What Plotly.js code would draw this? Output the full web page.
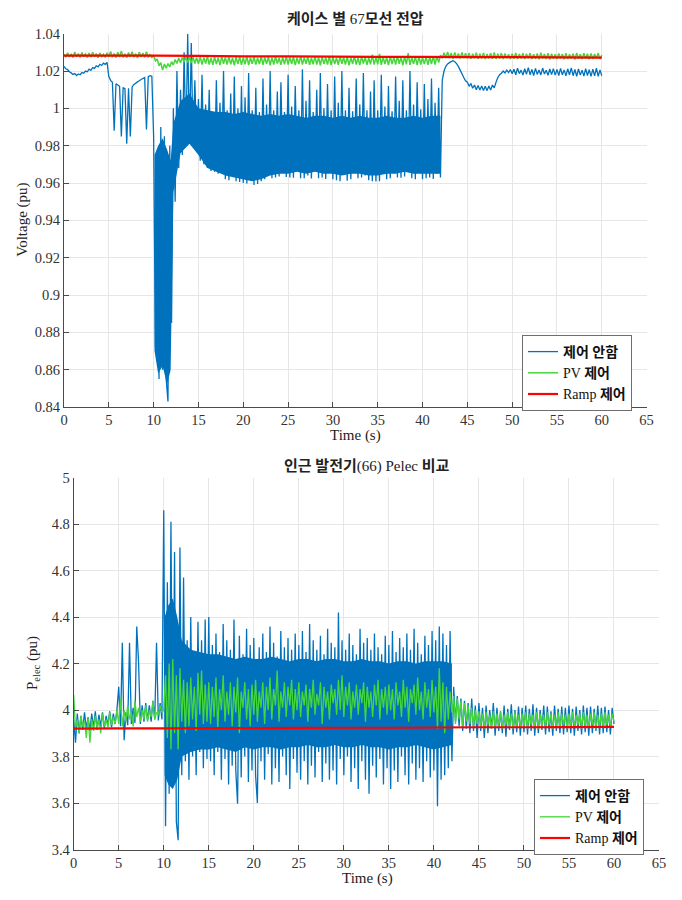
<!DOCTYPE html>
<html>
<head>
<meta charset="utf-8">
<script src="https://cdn.plot.ly/plotly-3.0.1.min.js"></script>
<style>
  html, body { margin: 0; padding: 0; background: #fff; }
  #chart { width: 682px; height: 900px; }
</style>
</head>
<body>
<div id="chart"></div>
<script>
// sample step of the time series (s)
var dt = 0.2

// 67 bus voltage, no control (pu), one row = 5 s
var vNone = [
  1.0225, 1.0212, 1.0208, 1.0196, 1.0190, 1.0182, 1.0186, 1.0176, 1.0184, 1.0180, 1.0192, 1.0188, 1.0200, 1.0196, 1.0210, 1.0204, 1.0218, 1.0214, 1.0228, 1.0222, 1.0236, 1.0230, 1.0242, 1.0236, 1.0246,
  1.0170, 1.0150, 1.0140, 0.9880, 1.0132, 1.0125, 1.0118, 0.9850, 1.0110, 1.0105, 0.9810, 1.0108, 0.9850, 1.0115, 1.0128, 1.0135, 1.0142, 1.0148, 1.0155, 1.0160, 1.0165, 0.9887, 1.0170, 1.0175, 1.0172,
  0.9850, 0.8720, 0.9650, 0.8550, 0.9900, 0.8600, 0.9850, 0.8550, 0.8430, 0.9800, 0.8850, 1.0000, 0.9500, 1.0200, 0.9680, 1.0100, 0.9750, 1.0300, 0.9800, 1.0400, 0.9820, 1.0350, 0.9810, 1.0150, 0.9790,
  1.0050, 0.9720, 1.0180, 0.9700, 1.0020, 0.9680, 1.0100, 0.9665, 0.9980, 0.9660, 1.0150, 0.9650, 1.0030, 0.9700, 1.0200, 0.9620, 0.9990, 0.9615, 1.0080, 0.9640, 1.0170, 0.9610, 1.0000, 0.9605, 1.0120,
  0.9600, 1.0060, 0.9598, 1.0190, 0.9640, 0.9990, 0.9590, 1.0110, 0.9595, 0.9980, 0.9610, 1.0160, 0.9620, 1.0020, 0.9660, 1.0200, 0.9625, 0.9990, 0.9630, 1.0090, 0.9635, 1.0140, 0.9700, 0.9980, 0.9632,
  1.0180, 0.9630, 1.0010, 0.9628, 1.0120, 0.9680, 0.9990, 0.9626, 1.0210, 0.9625, 1.0040, 0.9640, 1.0150, 0.9624, 0.9980, 0.9700, 1.0100, 0.9625, 1.0190, 0.9630, 1.0000, 0.9622, 1.0130, 0.9660, 0.9990,
  0.9620, 1.0170, 0.9615, 1.0030, 0.9610, 1.0200, 0.9650, 0.9990, 0.9612, 1.0110, 0.9620, 0.9985, 0.9690, 1.0160, 0.9625, 1.0020, 0.9630, 1.0190, 0.9640, 0.9990, 0.9615, 1.0090, 0.9610, 1.0150, 0.9608,
  0.9990, 0.9610, 1.0180, 0.9660, 1.0010, 0.9620, 1.0120, 0.9625, 0.9985, 0.9700, 1.0170, 0.9630, 1.0040, 0.9628, 1.0150, 0.9635, 0.9990, 0.9660, 1.0200, 0.9625, 1.0020, 0.9620, 1.0140, 0.9690, 0.9995,
  0.9620, 1.0130, 0.9625, 1.0050, 0.9630, 1.0160, 0.9622, 1.0030, 0.9650, 1.0110, 0.9630, 1.0150, 1.0200, 1.0225, 1.0238, 1.0245, 1.0250, 1.0255, 1.0250, 1.0240, 1.0225, 1.0205, 1.0185, 1.0165, 1.0148,
  1.0140, 1.0120, 1.0132, 1.0108, 1.0125, 1.0100, 1.0122, 1.0098, 1.0120, 1.0096, 1.0118, 1.0095, 1.0120, 1.0098, 1.0125, 1.0110, 1.0140, 1.0165, 1.0180, 1.0188, 1.0200, 1.0190, 1.0205, 1.0192, 1.0208,
  1.0185, 1.0210, 1.0180, 1.0215, 1.0186, 1.0205, 1.0178, 1.0212, 1.0183, 1.0218, 1.0180, 1.0208, 1.0176, 1.0214, 1.0182, 1.0206, 1.0179, 1.0216, 1.0184, 1.0204, 1.0177, 1.0211, 1.0181, 1.0213, 1.0178,
  1.0209, 1.0176, 1.0214, 1.0180, 1.0206, 1.0174, 1.0212, 1.0179, 1.0217, 1.0175, 1.0208, 1.0172, 1.0211, 1.0178, 1.0205, 1.0173, 1.0213, 1.0176, 1.0207, 1.0171, 1.0210, 1.0174, 1.0215, 1.0172, 1.0206,
  1.0175
]

// dense oscillation of the no-control voltage: solid band edges (pu)
var vBandTime = [10.1, 10.5, 11.0, 11.5, 11.9, 12.2, 13, 14, 15, 16, 17, 18, 19, 20, 21, 22, 23, 24, 25, 26, 27, 28, 29, 30, 31, 32, 33, 34, 35, 36, 37, 38, 39, 40, 41, 42]
var vBandLow = [0.870, 0.858, 0.862, 0.852, 0.860, 0.955, 0.976, 0.981, 0.975, 0.968, 0.966, 0.964, 0.963, 0.962, 0.961, 0.962, 0.964, 0.965, 0.965, 0.966, 0.965, 0.966, 0.965, 0.965, 0.964, 0.965, 0.965, 0.964, 0.964, 0.965, 0.965, 0.966, 0.965, 0.965, 0.965, 0.965]
var vBandHigh = [0.975, 0.980, 0.984, 0.978, 0.972, 0.992, 1.004, 1.008, 1.000, 0.999, 0.998, 0.998, 0.997, 0.998, 0.997, 0.996, 0.997, 0.996, 0.997, 0.996, 0.995, 0.996, 0.996, 0.995, 0.996, 0.995, 0.996, 0.995, 0.995, 0.996, 0.995, 0.995, 0.996, 0.995, 0.996, 0.996]

// 67 bus voltage, PV control (pu)
var vPv = [
  1.0290, 1.0274, 1.0298, 1.0276, 1.0292, 1.0272, 1.0302, 1.0275, 1.0294, 1.0273, 1.0299, 1.0277, 1.0291, 1.0272, 1.0296, 1.0274, 1.0300, 1.0276, 1.0293, 1.0271, 1.0297, 1.0275, 1.0290, 1.0273, 1.0298,
  1.0276, 1.0305, 1.0274, 1.0294, 1.0272, 1.0300, 1.0275, 1.0308, 1.0273, 1.0292, 1.0271, 1.0299, 1.0276, 1.0304, 1.0274, 1.0293, 1.0270, 1.0301, 1.0275, 1.0296, 1.0272, 1.0303, 1.0273, 1.0290, 1.0270,
  1.0285, 1.0255, 1.0265, 1.0228, 1.0245, 1.0205, 1.0238, 1.0215, 1.0240, 1.0222, 1.0250, 1.0232, 1.0262, 1.0240, 1.0270, 1.0245, 1.0272, 1.0248, 1.0275, 1.0246, 1.0274, 1.0243, 1.0276, 1.0240, 1.0272,
  1.0238, 1.0276, 1.0234, 1.0272, 1.0240, 1.0279, 1.0235, 1.0270, 1.0233, 1.0275, 1.0237, 1.0271, 1.0232, 1.0277, 1.0239, 1.0273, 1.0234, 1.0278, 1.0236, 1.0270, 1.0231, 1.0274, 1.0238, 1.0276, 1.0233,
  1.0272, 1.0236, 1.0279, 1.0232, 1.0271, 1.0239, 1.0275, 1.0234, 1.0270, 1.0237, 1.0278, 1.0233, 1.0273, 1.0238, 1.0276, 1.0231, 1.0272, 1.0235, 1.0277, 1.0240, 1.0270, 1.0233, 1.0274, 1.0236, 1.0279,
  1.0234, 1.0273, 1.0238, 1.0276, 1.0232, 1.0271, 1.0237, 1.0280, 1.0235, 1.0272, 1.0239, 1.0275, 1.0233, 1.0270, 1.0236, 1.0278, 1.0234, 1.0273, 1.0231, 1.0276, 1.0238, 1.0271, 1.0235, 1.0279, 1.0232,
  1.0275, 1.0237, 1.0270, 1.0233, 1.0278, 1.0239, 1.0273, 1.0234, 1.0276, 1.0231, 1.0272, 1.0238, 1.0279, 1.0235, 1.0271, 1.0232, 1.0277, 1.0240, 1.0274, 1.0233, 1.0270, 1.0236, 1.0288, 1.0234, 1.0273,
  1.0236, 1.0292, 1.0233, 1.0275, 1.0238, 1.0271, 1.0232, 1.0278, 1.0237, 1.0273, 1.0234, 1.0280, 1.0239, 1.0274, 1.0231, 1.0277, 1.0236, 1.0296, 1.0233, 1.0272, 1.0238, 1.0276, 1.0232, 1.0279, 1.0235,
  1.0272, 1.0237, 1.0277, 1.0233, 1.0274, 1.0238, 1.0279, 1.0234, 1.0280, 1.0245, 1.0285, 1.0268, 1.0298, 1.0270, 1.0302, 1.0268, 1.0296, 1.0266, 1.0300, 1.0269, 1.0294, 1.0267, 1.0299, 1.0270, 1.0295,
  1.0268, 1.0296, 1.0266, 1.0292, 1.0269, 1.0298, 1.0265, 1.0293, 1.0267, 1.0297, 1.0264, 1.0291, 1.0268, 1.0295, 1.0266, 1.0299, 1.0265, 1.0292, 1.0267, 1.0296, 1.0264, 1.0294, 1.0268, 1.0290, 1.0265,
  1.0293, 1.0266, 1.0297, 1.0264, 1.0291, 1.0267, 1.0295, 1.0265, 1.0292, 1.0268, 1.0296, 1.0264, 1.0290, 1.0266, 1.0294, 1.0263, 1.0298, 1.0267, 1.0291, 1.0265, 1.0295, 1.0262, 1.0293, 1.0266, 1.0290,
  1.0264, 1.0294, 1.0267, 1.0291, 1.0263, 1.0296, 1.0265, 1.0290, 1.0268, 1.0293, 1.0262, 1.0297, 1.0266, 1.0290, 1.0264, 1.0295, 1.0267, 1.0292, 1.0263, 1.0294, 1.0265, 1.0291, 1.0268, 1.0296, 1.0264,
  1.0285
]

// ramp control curves are smooth, read every 5 s
var rampTime = [0, 5, 10, 15, 20, 25, 30, 35, 40, 45, 50, 55, 60]
var vRamp = [1.0283, 1.0283, 1.0282, 1.0281, 1.0279, 1.0278, 1.0277, 1.0276, 1.0276, 1.0275, 1.0274, 1.0273, 1.0272]

// generator 66 Pelec, no control (pu)
var pNone = [
  3.960, 3.860, 3.985, 3.900, 3.975, 3.915, 3.990, 3.920, 3.970, 3.910, 3.985, 3.925, 3.995, 3.915, 3.980, 3.930, 3.990, 3.920, 3.975, 3.935, 3.995, 3.925, 3.985, 3.940, 4.000,
  4.100, 3.930, 4.290, 3.870, 3.990, 3.935, 4.290, 3.940, 4.010, 3.945, 4.360, 4.210, 3.940, 4.020, 3.950, 4.030, 3.955, 4.020, 3.950, 4.040, 3.960, 4.290, 3.955, 4.030, 3.960,
  4.860, 3.500, 4.550, 3.640, 4.810, 3.700, 4.680, 3.520, 3.440, 4.700, 3.720, 4.570, 3.780, 4.300, 3.700, 4.400, 3.800, 4.250, 3.720, 4.380, 3.820, 4.300, 3.750, 4.390, 3.790,
  4.400, 3.780, 4.280, 3.720, 4.330, 3.820, 4.250, 3.700, 4.370, 3.790, 4.300, 3.680, 4.260, 3.760, 4.390, 3.740, 3.597, 4.320, 3.710, 4.240, 3.800, 4.350, 3.690, 4.280, 3.740,
  4.310, 3.720, 3.600, 4.270, 3.780, 4.330, 3.700, 4.250, 3.810, 4.360, 3.680, 4.290, 3.750, 4.230, 3.690, 4.340, 3.800, 4.270, 3.720, 4.310, 3.660, 4.260, 3.790, 4.330, 3.730,
  4.280, 3.700, 4.340, 3.780, 4.250, 3.680, 4.370, 3.760, 4.300, 3.710, 4.260, 3.820, 4.320, 3.690, 4.240, 3.770, 4.350, 3.700, 4.290, 3.740, 4.270, 3.680, 4.420, 3.790, 4.300,
  3.720, 4.260, 3.800, 4.330, 3.690, 4.280, 3.750, 4.240, 3.660, 4.350, 3.780, 4.290, 3.700, 4.310, 3.640, 4.260, 3.760, 4.330, 3.710, 4.270, 3.790, 4.240, 3.680, 4.320, 3.750,
  4.280, 3.660, 4.340, 3.740, 4.250, 3.690, 4.310, 3.800, 4.270, 3.720, 4.330, 3.680, 4.260, 3.770, 4.350, 3.700, 4.290, 3.750, 4.240, 3.690, 4.320, 3.780, 4.280, 3.710, 4.340,
  3.740, 4.300, 3.586, 4.360, 3.700, 4.330, 3.720, 4.280, 3.750, 4.340, 3.780, 4.100, 3.950, 4.060, 3.930, 4.050, 3.910, 4.040, 3.920, 4.030, 3.900, 4.050, 3.910, 4.020, 3.880,
  4.030, 3.910, 4.010, 3.880, 4.020, 3.900, 4.000, 3.920, 4.030, 3.890, 4.010, 3.910, 3.995, 3.900, 4.020, 3.885, 4.005, 3.915, 4.025, 3.895, 4.000, 3.905, 4.015, 3.890, 4.010,
  3.905, 4.020, 3.895, 4.005, 3.910, 4.025, 3.890, 4.010, 3.900, 4.000, 3.915, 4.020, 3.895, 4.015, 3.905, 3.995, 3.890, 4.020, 3.910, 4.005, 3.900, 4.015, 3.895, 4.010, 3.905,
  4.020, 3.900, 4.005, 3.890, 4.015, 3.910, 4.000, 3.895, 4.020, 3.905, 4.010, 3.890, 4.015, 3.900, 4.005, 3.910, 4.020, 3.895, 4.010, 3.900, 4.015, 3.905, 4.000, 3.895, 4.010,
  3.940
]

// dense oscillation of the no-control Pelec: solid band edges (pu)
var pBandTime = [10.1, 10.5, 11, 11.5, 12, 13, 14, 15, 16, 17, 18, 19, 20, 21, 22, 23, 24, 25, 26, 27, 28, 29, 30, 31, 32, 33, 34, 35, 36, 37, 38, 39, 40, 41, 42]
var pBandLow = [3.72, 3.68, 3.66, 3.70, 3.80, 3.82, 3.83, 3.83, 3.84, 3.83, 3.82, 3.84, 3.83, 3.84, 3.84, 3.83, 3.84, 3.84, 3.85, 3.84, 3.84, 3.85, 3.84, 3.84, 3.85, 3.84, 3.84, 3.83, 3.84, 3.84, 3.85, 3.84, 3.83, 3.84, 3.85]
var pBandHigh = [4.40, 4.45, 4.48, 4.40, 4.30, 4.26, 4.25, 4.24, 4.24, 4.23, 4.22, 4.23, 4.22, 4.22, 4.23, 4.22, 4.21, 4.22, 4.22, 4.21, 4.22, 4.22, 4.21, 4.21, 4.22, 4.21, 4.21, 4.20, 4.21, 4.21, 4.20, 4.21, 4.21, 4.21, 4.20]

// generator 66 Pelec, PV control (pu)
var pPv = [
  4.066, 3.920, 3.960, 3.900, 3.975, 3.930, 3.955, 3.880, 3.970, 3.860, 3.960, 3.910, 3.975, 3.920, 3.960, 3.900, 3.985, 3.930, 3.960, 3.925, 3.990, 3.935, 3.970, 3.940, 4.000,
  3.940, 4.050, 3.930, 4.000, 3.950, 4.020, 3.960, 3.990, 3.930, 4.040, 3.970, 4.010, 3.950, 4.000, 3.960, 4.020, 3.950, 4.000, 3.970, 4.040, 3.960, 3.990, 3.980, 4.020, 3.990,
  4.000, 4.150, 3.880, 4.200, 3.830, 4.220, 3.900, 4.150, 3.830, 4.180, 3.950, 4.130, 3.900, 4.120, 3.930, 4.140, 3.960, 4.100, 3.910, 4.160, 3.980, 4.170, 3.940, 4.110, 3.950,
  4.120, 3.940, 4.100, 3.970, 4.140, 3.920, 4.090, 4.000, 4.150, 3.950, 4.080, 3.980, 4.120, 3.930, 4.100, 3.990, 4.140, 3.900, 4.080, 4.010, 4.120, 3.960, 4.090, 3.930, 4.110,
  3.980, 4.130, 3.950, 4.080, 4.010, 4.120, 3.940, 4.100, 4.000, 4.140, 3.960, 4.090, 4.020, 4.170, 3.950, 4.080, 4.010, 4.120, 3.970, 4.100, 4.020, 4.130, 3.960, 4.090, 4.000,
  4.120, 3.970, 4.080, 4.020, 4.110, 3.950, 4.090, 4.010, 4.130, 3.980, 4.070, 4.020, 4.120, 3.940, 4.100, 4.010, 4.080, 3.960, 4.110, 4.030, 4.090, 3.980, 4.130, 4.000, 4.150,
  3.970, 4.100, 4.020, 4.120, 3.960, 4.080, 4.010, 4.110, 3.980, 4.090, 4.030, 4.120, 3.950, 4.100, 4.010, 4.080, 3.970, 4.110, 4.020, 4.130, 3.960, 4.090, 4.010, 4.100, 3.980,
  4.110, 4.000, 4.090, 3.960, 4.120, 4.020, 4.080, 3.970, 4.130, 4.010, 4.100, 3.950, 4.090, 4.030, 4.110, 3.980, 4.140, 4.000, 4.080, 3.960, 4.120, 4.010, 4.090, 3.970, 4.130,
  3.990, 4.100, 3.920, 4.180, 3.950, 4.120, 3.900, 4.100, 3.960, 4.080, 3.990, 4.060, 3.940, 4.050, 3.960, 4.040, 3.930, 4.030, 3.950, 4.020, 3.940, 4.010, 3.930, 4.000, 3.940,
  3.995, 3.930, 3.985, 3.920, 3.990, 3.935, 3.980, 3.920, 3.995, 3.925, 3.985, 3.930, 3.990, 3.920, 3.980, 3.935, 3.990, 3.925, 3.985, 3.920, 3.990, 3.930, 3.980, 3.925, 3.985,
  3.930, 3.990, 3.920, 3.985, 3.935, 3.980, 3.925, 3.990, 3.920, 3.985, 3.930, 3.980, 3.925, 3.990, 3.935, 3.985, 3.920, 3.980, 3.930, 3.990, 3.925, 3.985, 3.935, 3.980, 3.920,
  3.985, 3.930, 3.990, 3.925, 3.980, 3.935, 3.985, 3.920, 3.990, 3.930, 3.980, 3.925, 3.985, 3.935, 3.990, 3.920, 3.980, 3.930, 3.985, 3.925, 3.990, 3.935, 3.980, 3.930, 3.985,
  3.950
]

// generator 66 Pelec, ramp control (pu)
var pRamp = [3.920, 3.921, 3.921, 3.922, 3.922, 3.923, 3.924, 3.924, 3.925, 3.926, 3.926, 3.927, 3.928]

var seriesNames = ["<b>제어 안함</b>", "PV <b>제어</b>", "Ramp <b>제어</b>"]
var xTicks = [0, 5, 10, 15, 20, 25, 30, 35, 40, 45, 50, 55, 60, 65]
var vTicks = [0.84, 0.86, 0.88, 0.9, 0.92, 0.94, 0.96, 0.98, 1, 1.02, 1.04]
var vTickText = ["0.84", "0.86", "0.88", "0.9", "0.92", "0.94", "0.96", "0.98", "1", "1.02", "1.04"]
var pTicks = [3.4, 3.6, 3.8, 4, 4.2, 4.4, 4.6, 4.8, 5]
var pTickText = ["3.4", "3.6", "3.8", "4", "4.2", "4.4", "4.6", "4.8", "5"]

var time = vNone.map((v, i) => Math.round(i * dt * 10) / 10)

var W = 682, H = 900
var px = (x) => x / W
var py = (y) => 1 - y / H

var FONT = "'Liberation Serif', 'Noto Sans CJK KR', serif"
var BLUE = "#0072bd", GREEN = "#45d638", RED = "#ff0000"

function lineTrace(x, y, name, color, width, xa, ya, legend){
	return {
		x: x, y: y, name: name, type: "scatter", mode: "lines",
		line: {color: color, width: width, simplify: false},
		xaxis: xa, yaxis: ya, legend: legend
	}
}

// the dense part of a signal, filled between its band edges, kept out of the legend
function bandTraces(x, low, high, xa, ya){
	var lower = {x: x, y: low, type: "scatter", mode: "lines", line: {width: 0, color: BLUE},
		xaxis: xa, yaxis: ya, showlegend: false, hoverinfo: "skip"}
	var upper = {x: x, y: high, type: "scatter", mode: "lines", line: {width: 0, color: BLUE},
		fill: "tonexty", fillcolor: BLUE,
		xaxis: xa, yaxis: ya, showlegend: false, hoverinfo: "skip"}
	return [lower, upper]
}

var data = [].concat(
	bandTraces(vBandTime, vBandLow, vBandHigh, "x", "y"),
	[lineTrace(time, vNone, seriesNames[0], BLUE, 1.3, "x", "y", "legend"),
	lineTrace(time, vPv, seriesNames[1], GREEN, 1.5, "x", "y", "legend"),
	lineTrace(rampTime, vRamp, seriesNames[2], RED, 2.2, "x", "y", "legend")],
	bandTraces(pBandTime, pBandLow, pBandHigh, "x2", "y2"),
	[lineTrace(time, pNone, seriesNames[0], BLUE, 1.3, "x2", "y2", "legend2"),
	lineTrace(time, pPv, seriesNames[1], GREEN, 1.3, "x2", "y2", "legend2"),
	lineTrace(rampTime, pRamp, seriesNames[2], RED, 2.2, "x2", "y2", "legend2")]
)

function axisStyle(extra){
	var base = {
		showline: true, linecolor: "#4a4a4a", linewidth: 1,
		ticks: "inside", ticklen: 5, tickcolor: "#4a4a4a", tickwidth: 1,
		showgrid: true, gridcolor: "#e6e6e6", gridwidth: 1,
		zeroline: false, mirror: false, automargin: false, fixedrange: true,
		tickfont: {family: FONT, size: 14.5, color: "#333"}
	}
	return Object.assign(base, extra)
}

function legendStyle(x, y){
	return {
		x: x, y: y, xanchor: "left", yanchor: "top",
		bgcolor: "#fff", bordercolor: "#6e6e6e", borderwidth: 1,
		font: {family: FONT, size: 14, color: "#111"},
		traceorder: "normal", tracegroupgap: 0, itemwidth: 30
	}
}

function label(text, x, y, size, angle){
	return {
		text: text, x: px(x), y: py(y), xref: "paper", yref: "paper",
		xanchor: "center", yanchor: "middle", showarrow: false,
		textangle: angle || 0,
		font: {family: FONT, size: size, color: "#222"}
	}
}

var layout = {
	width: W, height: H,
	margin: {l: 0, r: 0, t: 0, b: 0},
	paper_bgcolor: "#fff", plot_bgcolor: "#fff",
	showlegend: true,
	xaxis: axisStyle({domain: [px(64), px(646.6)], range: [0, 65], tickvals: xTicks, anchor: "y"}),
	yaxis: axisStyle({domain: [py(407), py(33.7)], range: [0.84, 1.04], tickvals: vTicks, ticktext: vTickText, anchor: "x"}),
	xaxis2: axisStyle({domain: [px(73.7), px(659)], range: [0, 65], tickvals: xTicks, anchor: "y2"}),
	yaxis2: axisStyle({domain: [py(849.5), py(477.7)], range: [3.4, 5], tickvals: pTicks, ticktext: pTickText, anchor: "x2"}),
	legend: legendStyle(px(522), py(335)),
	legend2: legendStyle(px(534), py(779)),
	annotations: [
		label("<b>케이스 별 </b>67<b>모선 전압</b>", 355.6, 19, 15),
		label("Time (s)", 355.6, 435, 15),
		label("Voltage (pu)", 21.7, 220, 15, -90),
		label("<b>인근 발전기</b>(66) Pelec <b>비교</b>", 366.5, 466, 15),
		label("Time (s)", 367, 878, 15),
		label("P<sub>elec</sub> (pu)", 33, 663, 15, -90)
	]
}

Plotly.newPlot("chart", data, layout, {displayModeBar: false, staticPlot: true})
</script>
</body>
</html>
